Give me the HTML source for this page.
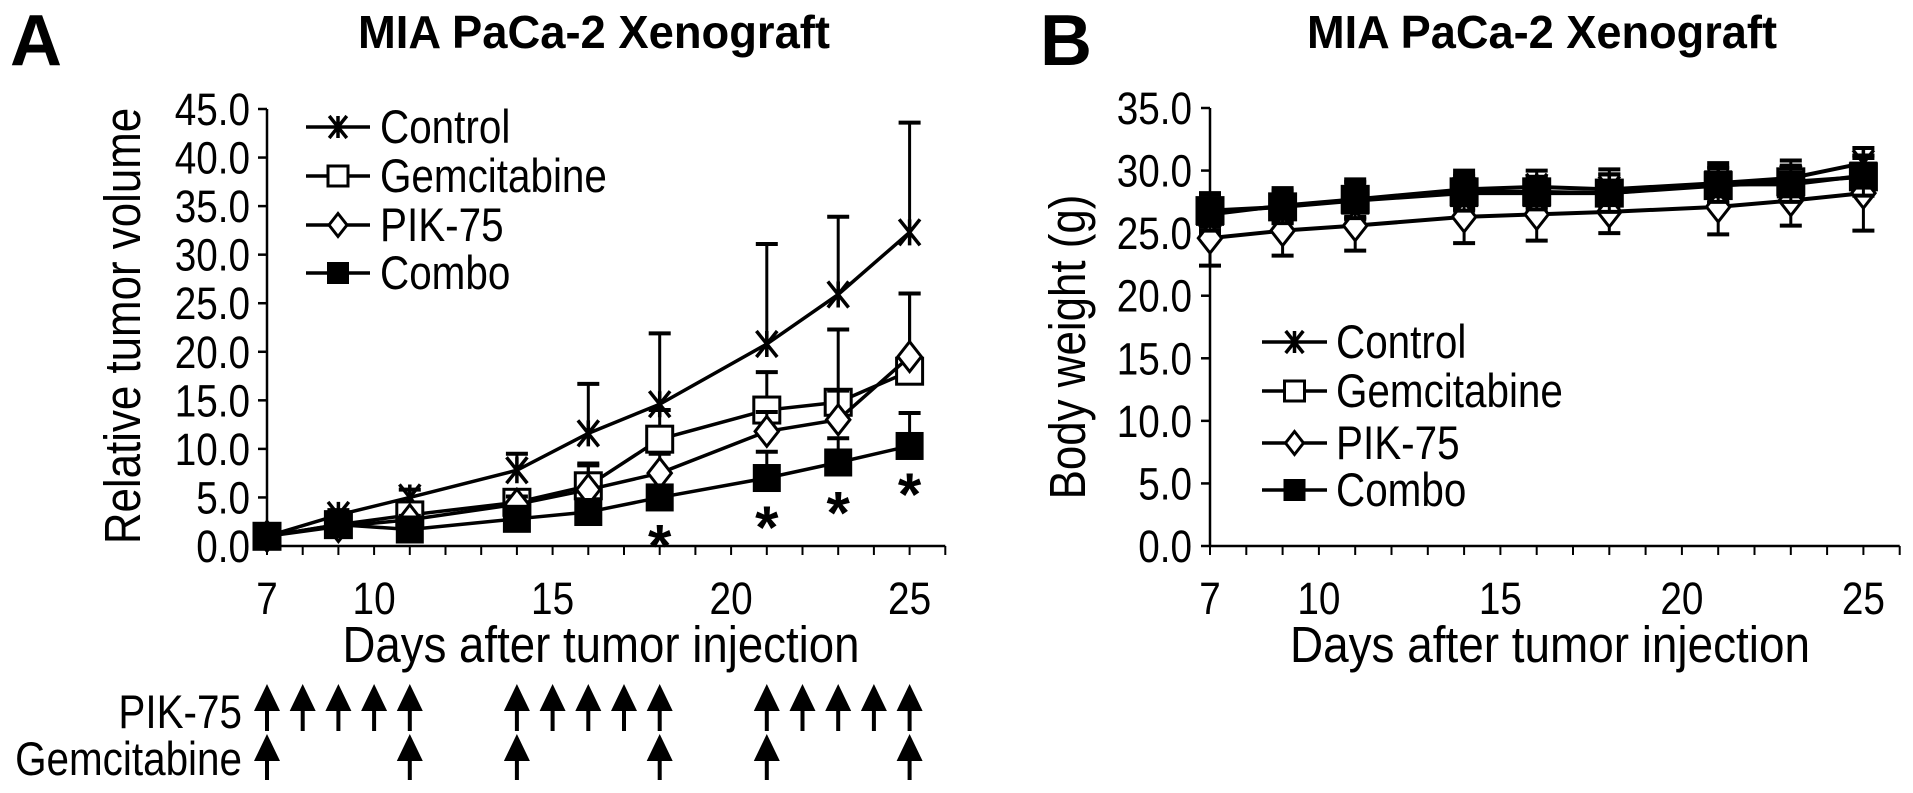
<!DOCTYPE html>
<html><head><meta charset="utf-8">
<style>
html,body{margin:0;padding:0;background:#fff;}
svg{display:block;font-family:"Liberation Sans",Arial,sans-serif;}
</style></head>
<body>
<svg id="fig" width="1913" height="793" viewBox="0 0 1913 793" xmlns="http://www.w3.org/2000/svg">
  <rect width="1913" height="793" fill="#fff"/>
  <text x="10" y="65" font-size="72" font-weight="bold">A</text>
  <text x="594" y="48" font-size="46" font-weight="bold" text-anchor="middle" textLength="472" lengthAdjust="spacingAndGlyphs">MIA PaCa-2 Xenograft</text>
  <text x="1040" y="65" font-size="72" font-weight="bold">B</text>
  <text x="1542" y="48" font-size="46" font-weight="bold" text-anchor="middle" textLength="470" lengthAdjust="spacingAndGlyphs">MIA PaCa-2 Xenograft</text>
  <text class="cond" transform="translate(140,326) rotate(-90)" font-size="51" text-anchor="middle">Relative tumor volume</text>
  <text class="cond" transform="translate(1085,347) rotate(-90)" font-size="51" text-anchor="middle">Body weight (g)</text>
  <text x="601" y="662" font-size="51" text-anchor="middle" textLength="517" lengthAdjust="spacingAndGlyphs">Days after tumor injection</text>
  <text x="1550" y="662" font-size="51" text-anchor="middle" textLength="520" lengthAdjust="spacingAndGlyphs">Days after tumor injection</text>
  <text class="cond" x="242" y="728" font-size="47" text-anchor="end">PIK-75</text>
  <text class="cond" x="242" y="775" font-size="47" text-anchor="end">Gemcitabine</text>
  <g id="gA"></g>
  <g id="gB"></g>
  <g id="gArrows"></g>
</svg>
<script>
const days = [7, 9, 11, 14, 16, 18, 21, 23, 25];
const seriesNames = ["Control", "Gemcitabine", "PIK-75", "Combo"];
const seriesMarkers = ["x", "square", "diamond", "filled"];
// Panel A: relative tumor volume
const aControl = [1.0, 3.2, 5.0, 7.8, 11.6, 14.6, 20.8, 25.9, 32.3];
const aGem = [1.0, 2.2, 3.2, 4.5, 6.2, 11.0, 14.0, 14.8, 18.0];
const aPik = [1.0, 2.0, 2.7, 4.3, 5.8, 7.5, 11.8, 13.0, 19.5];
const aCombo = [1.0, 2.2, 1.7, 2.8, 3.5, 5.0, 7.0, 8.6, 10.3];
const aControlErr = [0.2, 0.5, 0.8, 1.7, 5.1, 7.3, 10.3, 8.0, 11.3];
const aGemErr = [0.1, 0.3, 0.5, 1.2, 2.3, 3.0, 3.9, 7.5, 8.0];
const aPikErr = [0.1, 0.2, 0.4, 0.8, 2.5, 2.0, 2.0, 3.0, 6.5];
const aComboErr = [0.1, 0.3, 0.3, 0.5, 0.8, 1.2, 2.7, 2.5, 3.4];
const aYTicks = [0, 5, 10, 15, 20, 25, 30, 35, 40, 45];
const asteriskDays = [18, 21, 23, 25];
const asteriskVals = [1.0, 2.9, 4.4, 6.3];
// Panel B: body weight
const bControl = [26.5, 27.2, 27.7, 28.5, 28.7, 28.5, 29.0, 29.4, 30.6];
const bGem = [26.8, 27.1, 27.7, 28.3, 28.3, 28.2, 28.8, 29.1, 29.5];
const bPik = [24.6, 25.2, 25.6, 26.3, 26.5, 26.7, 27.1, 27.6, 28.2];
const bCombo = [26.7, 27.1, 27.6, 28.2, 28.2, 28.2, 28.9, 28.9, 29.6];
const bControlErr = [1.6, 1.4, 1.6, 1.5, 1.3, 1.6, 1.6, 1.4, 1.2];
const bGemErr = [1.3, 1.2, 1.4, 1.4, 1.2, 1.5, 1.4, 1.3, 1.5];
const bPikErr = [2.2, 2.0, 2.0, 2.1, 2.1, 1.7, 2.2, 2.0, 3.0];
const bComboErr = [1.5, 1.3, 1.4, 1.4, 1.3, 1.5, 1.4, 1.4, 1.6];
const bYTicks = [0, 5, 10, 15, 20, 25, 30, 35];
const xTickLabels = [7, 10, 15, 20, 25];
// Dosing schedule
const pikDoseDays = [7, 8, 9, 10, 11, 14, 15, 16, 17, 18, 21, 22, 23, 24, 25];
const gemDoseDays = [7, 11, 14, 18, 21, 25];

const NS = "http://www.w3.org/2000/svg";
function mk(parent, tag, attrs) {
  const e = document.createElementNS(NS, tag);
  for (const k in attrs) e.setAttribute(k, attrs[k]);
  parent.appendChild(e);
  return e;
}
function makeAxes(x0, dayW, y0, yMax, yMaxPx) {
  return {
    x: d => x0 + (d - 7) * dayW,
    y: v => y0 - v / yMax * (y0 - yMaxPx)
  };
}
const axA = makeAxes(267, 35.7, 546, 45, 109);
const axB = makeAxes(1210, 36.3, 546, 35, 108);

function drawAxes(g, ax, yTicks, yEndVal, labelRight, name) {
  const xEnd = ax.x(26);
  let l = mk(g, "line", {x1: ax.x(7), y1: ax.y(0), x2: ax.x(7), y2: ax.y(yEndVal), stroke: "#000", "stroke-width": 2.5});
  
  
  l = mk(g, "line", {x1: ax.x(7), y1: ax.y(0), x2: xEnd, y2: ax.y(0), stroke: "#000", "stroke-width": 2.5});
  
  
  yTicks.forEach(v => {
    mk(g, "line", {x1: ax.x(7) - 9, y1: ax.y(v), x2: ax.x(7), y2: ax.y(v), stroke: "#000", "stroke-width": 2.5});
    const t = mk(g, "text", {x: labelRight, y: ax.y(v) + 16, "font-size": 45, "text-anchor": "end", "class": "cond"});
    t.textContent = v.toFixed(1);
    
    
  });
  for (let d = 7; d <= 26; d++) {
    mk(g, "line", {x1: ax.x(d), y1: ax.y(0), x2: ax.x(d), y2: ax.y(0) + 9, stroke: "#000", "stroke-width": 2});
  }
  xTickLabels.forEach(d => {
    const t = mk(g, "text", {x: ax.x(d), y: 614, "font-size": 45, "text-anchor": "middle", "class": "cond"});
    t.textContent = d;
    
    
  });
}

function marker(g, type, cx, cy, s) {
  const h = s / 2;
  let e;
  if (type === "x") {
    e = mk(g, "path", {d: `M${cx-h*0.8},${cy-h}L${cx+h*0.8},${cy+h}M${cx+h*0.8},${cy-h}L${cx-h*0.8},${cy+h}M${cx},${cy-h}L${cx},${cy+h}`, stroke: "#000", "stroke-width": 3.5, fill: "none"});
  } else if (type === "square") {
    e = mk(g, "rect", {x: cx - h, y: cy - h, width: s, height: s, fill: "#fff", stroke: "#000", "stroke-width": 3});
  } else if (type === "diamond") {
    e = mk(g, "path", {d: `M${cx},${cy-h*1.15}L${cx+h*0.9},${cy}L${cx},${cy+h*1.15}L${cx-h*0.9},${cy}Z`, fill: "#fff", stroke: "#000", "stroke-width": 3});
  } else {
    e = mk(g, "rect", {x: cx - h, y: cy - h, width: s, height: s, fill: "#000", stroke: "#000", "stroke-width": 2});
  }
  return e;
}

function drawSeries(g, ax, vals, errs, type, both, name) {
  const sg = mk(g, "g", {});
  
  
  days.forEach((d, i) => {
    const x = ax.x(d), top = ax.y(vals[i] + errs[i]);
    const bot = both ? ax.y(vals[i] - errs[i]) : ax.y(vals[i]);
    mk(sg, "line", {x1: x, y1: top, x2: x, y2: bot, stroke: "#000", "stroke-width": 3});
    mk(sg, "line", {x1: x - 11, y1: top, x2: x + 11, y2: top, stroke: "#000", "stroke-width": 4});
    if (both) mk(sg, "line", {x1: x - 11, y1: bot, x2: x + 11, y2: bot, stroke: "#000", "stroke-width": 4});
  });
  const pts = days.map((d, i) => ax.x(d) + "," + ax.y(vals[i])).join(" ");
  const pl = mk(sg, "polyline", {points: pts, fill: "none", stroke: "#000", "stroke-width": both ? 4 : 3.5});
  
  
  days.forEach((d, i) => {
    const m = marker(sg, type, ax.x(d), ax.y(vals[i]), 26);
    
    
  });
}

function drawLegend(g, x1, x2, textX, ys, name) {
  seriesNames.forEach((s, i) => {
    const lg = mk(g, "g", {});
    
    
    const y = ys[i];
    mk(lg, "line", {x1: x1, y1: y, x2: x2, y2: y, stroke: "#000", "stroke-width": 3.5});
    marker(lg, seriesMarkers[i], (x1 + x2) / 2, y, seriesMarkers[i] === "x" ? 22 : 20);
    const t = mk(lg, "text", {x: textX, y: y + 16, "font-size": 47, "class": "cond"});
    t.textContent = s;
  });
}

const gA = document.getElementById("gA");
drawAxes(gA, axA, aYTicks, 45, 250, "panel-a");
drawSeries(gA, axA, aControl, aControlErr, "x", false, "a-control-series");
drawSeries(gA, axA, aGem, aGemErr, "square", false, "a-gemcitabine-series");
drawSeries(gA, axA, aPik, aPikErr, "diamond", false, "a-pik75-series");
drawSeries(gA, axA, aCombo, aComboErr, "filled", false, "a-combo-series");
asteriskDays.forEach((d, i) => {
  const t = mk(gA, "text", {x: axA.x(d), y: axA.y(asteriskVals[i]) + 30, "font-size": 60, "font-weight": "bold", "text-anchor": "middle"});
  t.textContent = "*";
  
  
});
drawLegend(gA, 306, 370, 380, [127, 176, 225, 273], "panel-a");

const gB = document.getElementById("gB");
drawAxes(gB, axB, bYTicks, 35, 1192, "panel-b");
drawSeries(gB, axB, bControl, bControlErr, "x", true, "b-control-series");
drawSeries(gB, axB, bGem, bGemErr, "square", true, "b-gemcitabine-series");
drawSeries(gB, axB, bPik, bPikErr, "diamond", true, "b-pik75-series");
drawSeries(gB, axB, bCombo, bComboErr, "filled", true, "b-combo-series");
drawLegend(gB, 1262, 1327, 1336, [342, 391, 443, 490], "panel-b");

const gArr = document.getElementById("gArrows");
function arrow(d, yTop, yBot, name) {
  const x = axA.x(d);
  const a = mk(gArr, "path", {d: `M${x},${yTop}L${x+13},${yTop+27}L${x+2},${yTop+27}L${x+2},${yBot}L${x-2},${yBot}L${x-2},${yTop+27}L${x-13},${yTop+27}Z`, fill: "#000"});
  
  
}
pikDoseDays.forEach(d => arrow(d, 684, 731, 'pik75-dose-arrow'));
gemDoseDays.forEach(d => arrow(d, 734, 780, 'gemcitabine-dose-arrow'));

// condense text horizontally (narrow font look)
document.querySelectorAll('text.cond').forEach(t => {
  const w = t.getComputedTextLength();
  t.setAttribute('textLength', (w * 0.86).toFixed(1));
  t.setAttribute('lengthAdjust', 'spacingAndGlyphs');
});
</script>
</body></html>
